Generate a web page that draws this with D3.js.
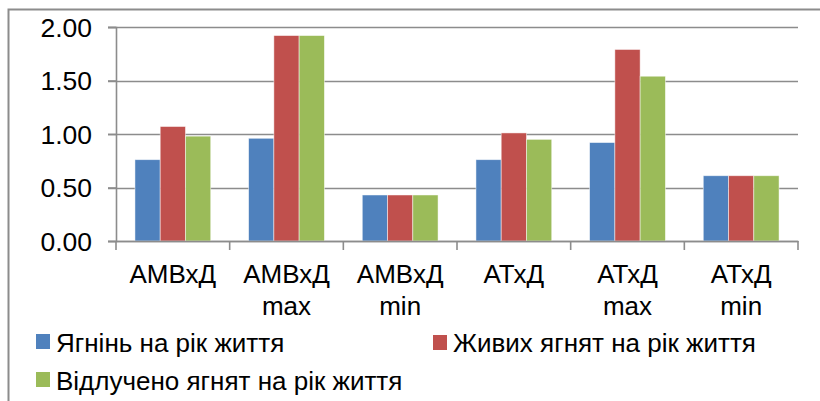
<!DOCTYPE html>
<html>
<head>
<meta charset="utf-8">
<script src="https://cdn.jsdelivr.net/npm/d3@7"></script>
<style>
  html, body { margin: 0; padding: 0; background: #fff; }
  svg { display: block; }
  text { font-family: "Liberation Sans", Arial, sans-serif; fill: #000; }
</style>
</head>
<body>
<svg id="chart" width="820" height="401"></svg>
<script>
const categories = ["АМВхД", "АМВхД max", "АМВхД min", "АТхД", "АТхД max", "АТхД min"];
const seriesNames = ["Ягнінь на рік життя", "Живих ягнят на рік життя", "Відлучено ягнят на рік життя"];
const lambsPerYear = [0.76, 0.96, 0.43, 0.76, 0.92, 0.61];
const liveLambsPerYear = [1.07, 1.92, 0.43, 1.01, 1.79, 0.61];
const weanedLambsPerYear = [0.98, 1.92, 0.43, 0.95, 1.54, 0.61];
const yTicks = [0, 0.5, 1, 1.5, 2];
const colors = ["#4F81BD", "#C0504D", "#9BBB59"];

const seriesValues = [lambsPerYear, liveLambsPerYear, weanedLambsPerYear];

const svg = d3.select("#chart");

// outer frame
svg.append("rect")
  .attr("x", 8.5).attr("y", 9.5)
  .attr("width", 830).attr("height", 420)
  .attr("fill", "none").attr("stroke", "#8c8c8c").attr("stroke-width", 2);

const plotLeft = 116, plotRight = 798, plotTop = 27, plotBottom = 241;

const x = d3.scaleBand().domain(categories).range([plotLeft, plotRight]).padding(0);
const xs = d3.scaleBand().domain(d3.range(seriesNames.length))
  .range([0, x.bandwidth()]).paddingInner(0).paddingOuter(0.75);
const y = d3.scaleLinear().domain([0, 2]).range([plotBottom, plotTop]);

// gridlines
svg.append("g").selectAll("line").data(yTicks).join("line")
  .attr("x1", plotLeft - 8).attr("x2", plotRight)
  .attr("y1", d => Math.round(y(d)) + 0.5).attr("y2", d => Math.round(y(d)) + 0.5)
  .attr("stroke", "#8c8c8c").attr("stroke-width", 1.6);

// bars
const groups = svg.append("g").selectAll("g").data(categories).join("g")
  .attr("transform", d => `translate(${x(d)},0)`);
groups.selectAll("rect")
  .data((d, i) => seriesValues.map((vals, s) => ({ s, v: vals[i] })))
  .join("rect")
  .attr("x", d => xs(d.s))
  .attr("width", xs.bandwidth())
  .attr("y", d => y(d.v))
  .attr("height", d => y(0) - y(d.v))
  .attr("fill", d => colors[d.s])
  .attr("stroke", "rgba(255,255,255,0.6)")
  .attr("stroke-width", 0.8);

// y axis
const yAxis = svg.append("g")
  .attr("transform", `translate(${plotLeft},0)`)
  .call(d3.axisLeft(y).tickValues(yTicks).tickFormat(d3.format(".2f")).tickSize(8).tickPadding(16));
yAxis.select(".domain").attr("stroke", "#8c8c8c").attr("stroke-width", 1.6);
yAxis.selectAll(".tick line").attr("stroke", "#8c8c8c").attr("stroke-width", 1.6);
yAxis.selectAll(".tick text")
  .attr("font-size", 26.5).attr("font-family", "Liberation Sans, Arial, sans-serif")
  .attr("fill", "#000").attr("dy", "0.35em");

// x axis line
const xAxis = svg.append("g")
  .attr("transform", `translate(0,${plotBottom})`)
  .call(d3.axisBottom(x).tickSize(0).tickFormat(""));
xAxis.select(".domain").attr("stroke", "#8c8c8c").attr("stroke-width", 1.6);

// category boundary tick marks
const bounds = categories.map(c => x(c)).concat([plotRight]);
svg.append("g").selectAll("line").data(bounds).join("line")
  .attr("x1", d => d).attr("x2", d => d)
  .attr("y1", plotBottom).attr("y2", plotBottom + 9)
  .attr("stroke", "#8c8c8c").attr("stroke-width", 1.6);

// x labels
const xl = svg.append("g").selectAll("text").data(categories).join("text")
  .attr("x", d => x(d) + x.bandwidth() / 2)
  .attr("y", 283)
  .attr("text-anchor", "middle")
  .attr("font-size", 26);
xl.each(function (d) {
  const parts = d.split(" ");
  const t = d3.select(this);
  parts.forEach((p, i) => {
    t.append("tspan").attr("x", x(d) + x.bandwidth() / 2).attr("dy", i === 0 ? 0 : 32).text(p);
  });
});

// legend
const legendPos = [
  { sx: 36, sy: 334, tx: 56, ty: 352 },
  { sx: 433, sy: 335, tx: 453, ty: 352 },
  { sx: 36, sy: 372, tx: 56, ty: 390 }
];
const lg = svg.append("g").selectAll("g").data(seriesNames).join("g");
lg.append("rect")
  .attr("x", (d, i) => legendPos[i].sx).attr("y", (d, i) => legendPos[i].sy)
  .attr("width", 14).attr("height", 15)
  .attr("fill", (d, i) => colors[i]);
lg.append("text")
  .attr("x", (d, i) => legendPos[i].tx).attr("y", (d, i) => legendPos[i].ty)
  .attr("font-size", 26)
  .text(d => d);
</script>
</body>
</html>
